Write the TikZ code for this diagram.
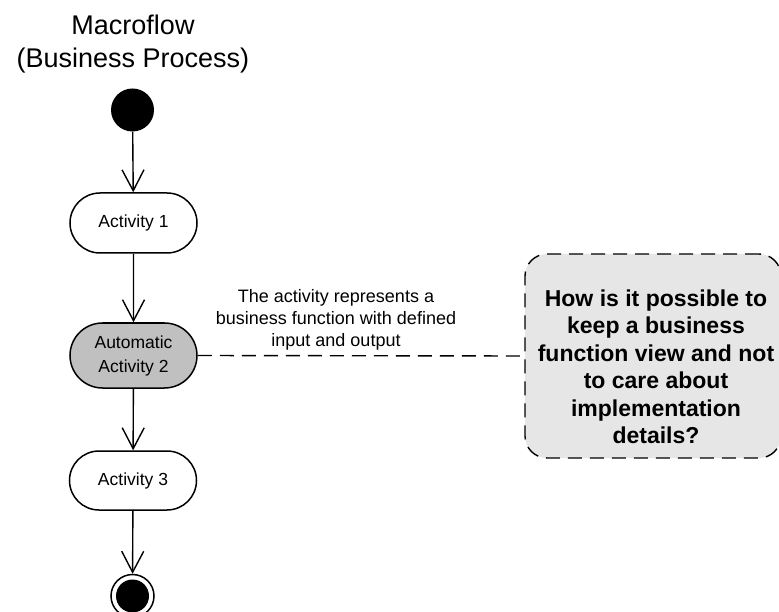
\documentclass[tikz,border=0pt]{standalone}
\usepackage{fontspec}
\setmainfont{Liberation Sans}
\usetikzlibrary{arrows.meta,shapes.misc}
\definecolor{actgray}{RGB}{192,192,192}
\definecolor{notegray}{RGB}{230,230,230}
\tikzset{
  flow/.style={line width=1.4pt,-{Straight Barb[length=21pt,width=22pt,line width=1.4pt]}},
  actbox/.style={rounded rectangle,draw,line width=1.5pt,fill=white,minimum width=127pt,
    inner sep=0pt,align=center,font=\fontsize{17.5}{24}\selectfont},
  dashline/.style={line width=1.4pt,dash pattern=on 14pt off 8pt},
}
\begin{document}
\begin{tikzpicture}[x=1pt,y=-1pt]
\useasboundingbox (0,0) rectangle (779,612);

% heading
\node (title) at (133,44) [align=center,font=\fontsize{27}{33}\selectfont] {Macroflow\\(Business Process)};

% initial node
\node (start) at (132.5,110) [circle,fill=black,minimum size=43pt,inner sep=0pt] {};

% activities
\node (a1) at (133.5,223) [actbox,minimum height=60pt] {Activity 1};
\node (a2) at (133.5,355.5) [actbox,minimum height=65pt,fill=actgray] {Automatic\\Activity 2};
\node (a3) at (133,480.5) [actbox,minimum height=59pt] {Activity 3};

% final node
\node (stop) at (132.5,596) [circle,draw,line width=1.5pt,fill=white,minimum size=43pt,inner sep=0pt] {};
\node (stopdot) at (stop.center) [circle,fill=black,minimum size=33pt,inner sep=0pt] {};

% control flow
\draw[flow] (start) -- (a1);
\draw[flow] (a1) -- (a2);
\draw[flow] (a2) -- (a3);
\draw[flow] (a3) -- (stop);

% annotation on the activity
\node (remark) at (336,320) [align=center,font=\fontsize{18}{22}\selectfont]
  {The activity represents a\\business function with defined\\input and output};

% question box
\node (note) at (653,356) [rectangle,rounded corners=22pt,draw,dashline,fill=notegray,
  minimum width=256pt,minimum height=204pt] {};
\node (notetext) at (656,367) [align=center,font=\bfseries\fontsize{23}{27.5}\selectfont]
  {How is it possible to\\keep a business\\function view and not\\to care about\\implementation\\details?};

\draw[dashline] (a2.east) -- (note.west);
\end{tikzpicture}
\end{document}
